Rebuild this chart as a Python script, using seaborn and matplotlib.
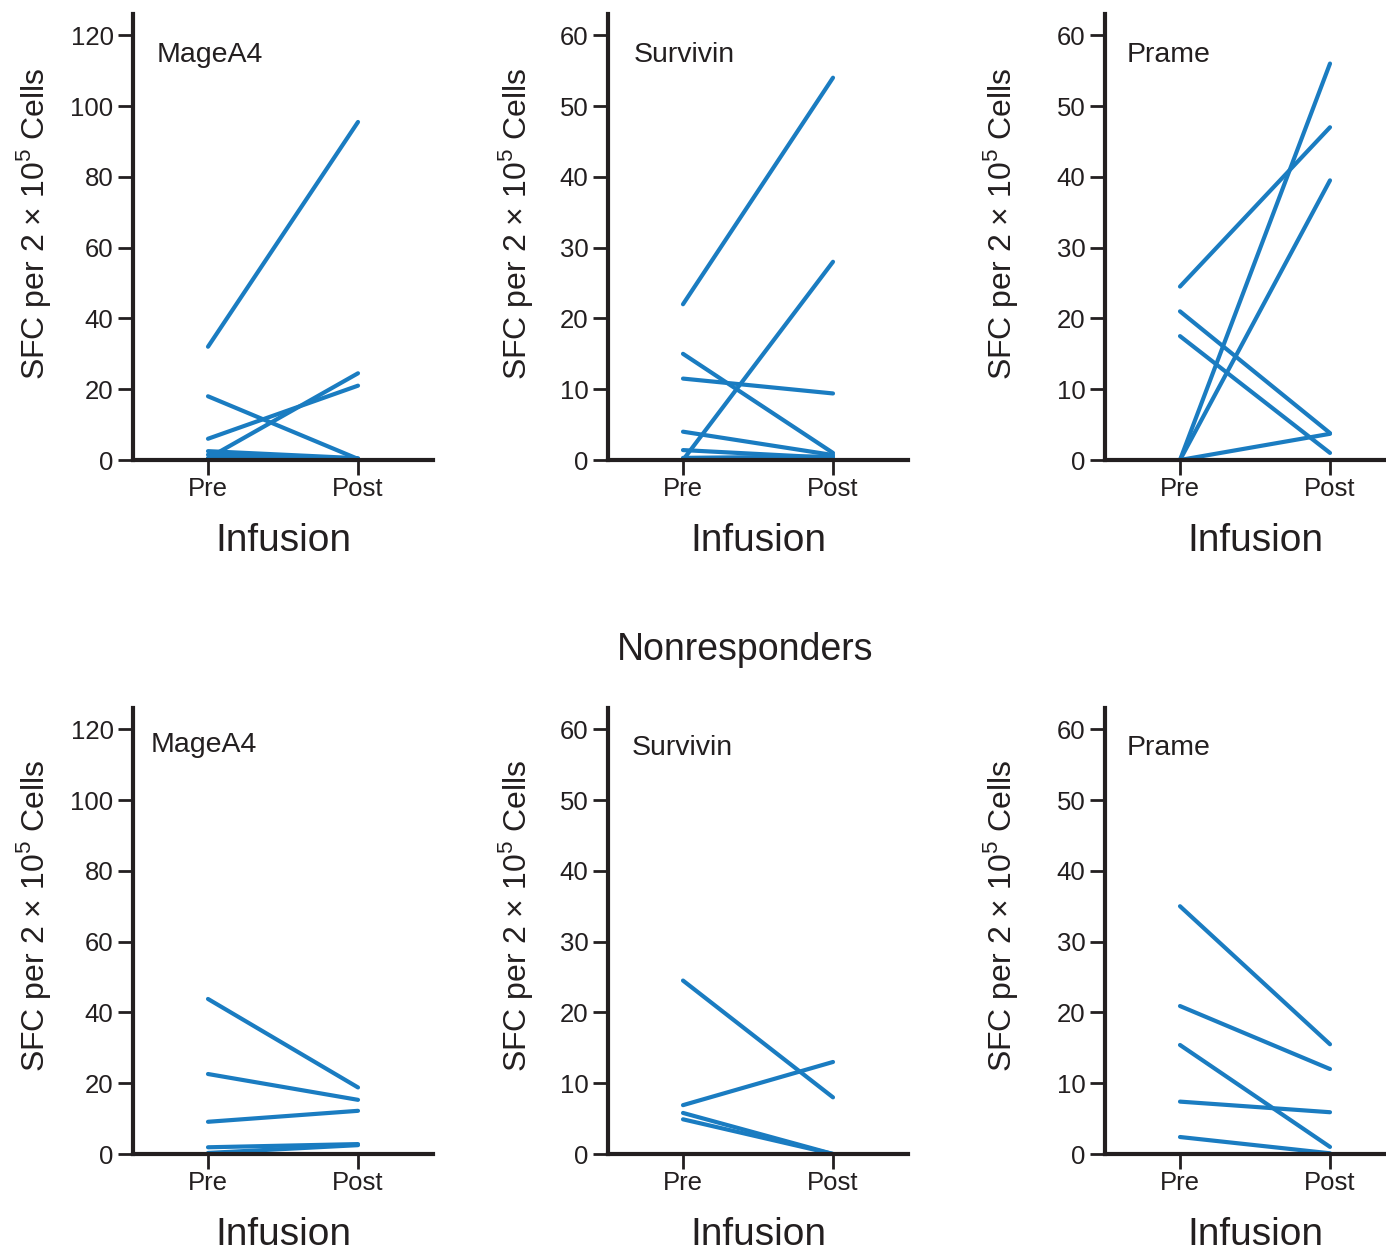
import matplotlib
matplotlib.use("Agg")
import matplotlib.pyplot as plt
import seaborn as sns
import pandas as pd

# values (SFC per 2x10^5 cells)
top_mage_pre = [32, 18, 6, 0.5, 2.5, 1.5, 0.5]
top_mage_post = [95.5, 0.3, 21, 24.5, 0.5, 0.3, 0]
top_surv_pre = [22, 0, 15, 11.5, 4, 1.4, 0.3]
top_surv_post = [54, 28, 1, 9.4, 0.7, 0.3, 0.5]
top_prame_pre = [24.5, 0, 0, 21, 17.5, 0]
top_prame_post = [47, 56, 39.5, 3.8, 1, 3.7]

bot_mage_pre = [43.8, 22.6, 9.1, 1.9, 0.3]
bot_mage_post = [18.8, 15.3, 12.2, 2.8, 2.5]
bot_surv_pre = [24.5, 6.9, 5.8, 4.9]
bot_surv_post = [8, 13, 0, 0]
bot_prame_pre = [35, 20.9, 15.4, 7.4, 2.4]
bot_prame_post = [15.5, 12, 1, 5.9, 0.1]

antigens = ["MageA4", "Survivin", "Prame"]
timepoints = ["Pre", "Post"]
yticks_big = [0, 20, 40, 60, 80, 100, 120]
yticks_small = [0, 10, 20, 30, 40, 50, 60]

sns.set_theme(style="ticks")
plt.rcParams["font.family"] = ["Liberation Sans", "DejaVu Sans"]
plt.rcParams["mathtext.fontset"] = "custom"
plt.rcParams["mathtext.rm"] = "Liberation Sans"

blue = "#1a7cc1"
ink = "#231f20"


def long_df(pre, post):
    rows = []
    for i, (a, b) in enumerate(zip(pre, post)):
        rows.append({"id": i, "t": 0, "v": a})
        rows.append({"id": i, "t": 1, "v": b})
    return pd.DataFrame(rows)


panels = [
    (top_mage_pre, top_mage_post, 0, 0),
    (top_surv_pre, top_surv_post, 1, 0),
    (top_prame_pre, top_prame_post, 2, 0),
    (bot_mage_pre, bot_mage_post, 0, 1),
    (bot_surv_pre, bot_surv_post, 1, 1),
    (bot_prame_pre, bot_prame_post, 2, 1),
]

W, H = 1386, 1255
fig = plt.figure(figsize=(W / 100, H / 100), dpi=100)

lefts = [133, 608, 1105]
bottoms = [460, 1154]
label_offsets = [-80, -73, -85]
label_centres = [224, 916]
label_xy = [[(157, 55), (634, 55), (1127, 55)], [(151, 745), (632, 748), (1127, 748)]]

for pre, post, col, row in panels:
    l = lefts[col]
    b = bottoms[row]
    ax = fig.add_axes([l / W, 1 - b / H, 300 / W, 446 / H])
    df = long_df(pre, post)
    sns.lineplot(data=df, x="t", y="v", units="id", estimator=None,
                 color=blue, linewidth=3, ax=ax, clip_on=False)
    big = col == 0
    ax.set_xlim(-0.5, 1.5)
    ax.set_ylim(0, 126 if big else 63)
    ax.set_yticks(yticks_big if big else yticks_small)
    ax.set_xticks([0, 1])
    ax.set_xticklabels(timepoints)
    ax.tick_params(axis="both", direction="out", length=11, width=2, color=ink,
                   labelsize=18.5, labelcolor=ink, pad=3)
    ax.tick_params(axis="x", pad=1)
    sns.despine(ax=ax)
    for s in ["left", "bottom"]:
        ax.spines[s].set_linewidth(3)
        ax.spines[s].set_color(ink)
    ax.set_xlabel("Infusion", fontsize=28, color=ink, labelpad=16)
    ax.set_ylabel(r"SFC per 2 × 10$^{5}$ Cells", fontsize=23, color=ink)
    ax.yaxis.set_label_coords(label_offsets[col] / 300, (b - label_centres[row]) / 446)
    tx, ty = label_xy[row][col]
    ax.text((tx - l) / 300, (b - ty) / 446, antigens[col], transform=ax.transAxes,
            fontsize=20.5, color=ink, va="center", ha="left")

fig.text(745 / W, 1 - 650 / H, "Nonresponders", fontsize=27,
         color=ink, ha="center", va="center")

fig.savefig("out.png", dpi=100)
